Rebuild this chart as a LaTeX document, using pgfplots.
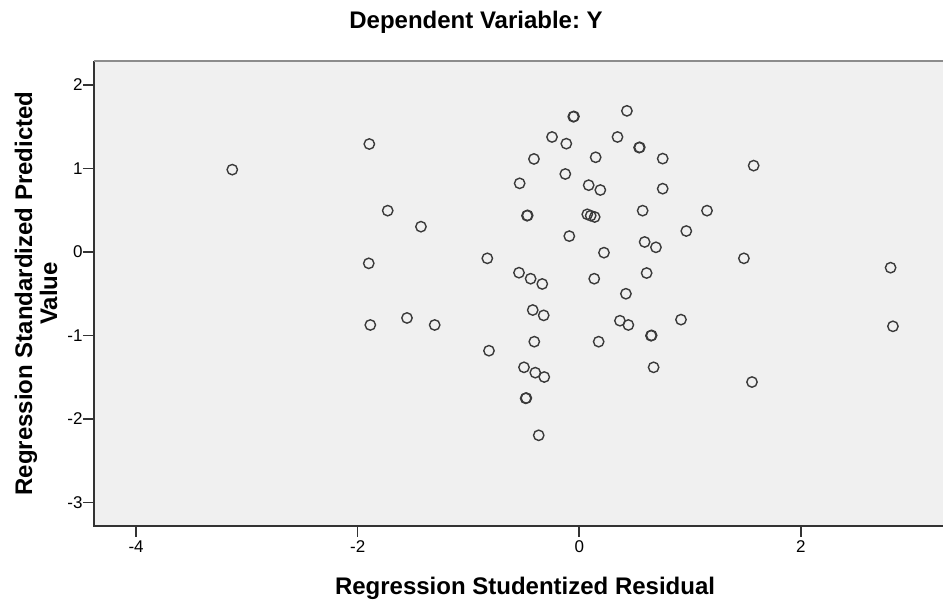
\documentclass[border=0pt]{standalone}
\usepackage{pgfplots}
\pgfplotsset{compat=1.18}
\usepackage{fontspec}
\setmainfont{Liberation Sans}
\frenchspacing
\definecolor{plotbg}{HTML}{F0F0F0}
\definecolor{frame}{HTML}{333333}
\definecolor{topframe}{HTML}{8C8C8C}
\definecolor{markc}{HTML}{3A3A3A}

\begin{document}
\begin{tikzpicture}
\begin{axis}[
    at={(0,0)}, anchor=south west,
    scale only axis,
    width=849pt, height=465pt,
    xmin=-4.380, xmax=3.283,
    ymin=-3.281, ymax=2.287,
    xtick={-4,-2,0,2},
    ytick={-3,-2,-1,0,1,2},
    xtick pos=left, ytick pos=left,
    tick align=outside,
    major tick length=11pt,
    every tick/.style={line width=1.6pt, frame},
    axis line style={draw=none},
    axis background/.style={fill=plotbg},
    clip=false,
    /pgf/number format/assume math mode=true,
    tick label style={font=\fontsize{17}{20}\selectfont, text=black},
    yticklabel style={xshift=3pt},
    title={Dependent Variable: Y},
    title style={font=\bfseries\fontsize{24}{25}\selectfont,
        at={(axis description cs:0.45,1)}, anchor=base, yshift=26pt},
    xlabel={Regression Studentized Residual},
    xlabel style={font=\bfseries\fontsize{24}{25}\selectfont,
        at={(axis description cs:0.5077,0)}, anchor=base, yshift=-69pt},
    ylabel={Regression Standardized Predicted\\Value},
    ylabel style={font=\bfseries\fontsize{24}{25}\selectfont, align=center,
        at={(axis description cs:-0.0683,0.5)}, anchor=center},
]
\draw[line width=2pt, frame] (rel axis cs:0,1) -- (rel axis cs:0,0) -- (rel axis cs:1,0);
\draw[line width=2pt, topframe] (rel axis cs:0,1) -- (rel axis cs:1,1);

\addplot[only marks, mark=o, mark size=5.2pt,
    mark options={line width=1.4pt, draw=markc}]
coordinates {
(-3.132,0.986) (-1.895,1.293) (-0.054,1.620) (-0.048,1.623)
(0.430,1.690) (-0.246,1.377) (-0.117,1.297) (0.345,1.377)
(0.540,1.250) (0.546,1.253) (-0.409,1.114) (0.148,1.134)
(0.753,1.118) (1.574,1.034) (-0.126,0.934) (-0.538,0.822)
(0.085,0.800) (0.190,0.742) (0.753,0.758) (-1.729,0.495)
(-1.429,0.303) (-0.472,0.435) (-0.466,0.438) (0.072,0.451)
(0.103,0.435) (0.139,0.419) (0.572,0.495) (1.153,0.495)
(0.966,0.251) (-0.090,0.190) (0.590,0.120) (0.692,0.056)
(0.223,-0.008) (-1.900,-0.136) (-0.830,-0.076) (1.486,-0.076)
(2.810,-0.188) (-0.544,-0.248) (-0.439,-0.320) (-0.334,-0.383)
(0.135,-0.320) (0.608,-0.252) (0.421,-0.500) (-0.420,-0.695)
(-0.321,-0.759) (-1.886,-0.874) (-1.555,-0.790) (-1.305,-0.874)
(0.367,-0.823) (0.443,-0.874) (0.918,-0.810) (0.647,-1.002)
(0.653,-0.999) (2.831,-0.890) (-0.406,-1.074) (-0.815,-1.182)
(0.175,-1.074) (-0.499,-1.381) (-0.397,-1.445) (-0.316,-1.497)
(-0.484,-1.752) (-0.478,-1.749) (0.671,-1.381) (1.559,-1.557)
(-0.366,-2.195)
};
\end{axis}
\pgfresetboundingbox
\path[use as bounding box] (-94pt,-78pt) rectangle (849pt,526pt);
\end{tikzpicture}
\end{document}
